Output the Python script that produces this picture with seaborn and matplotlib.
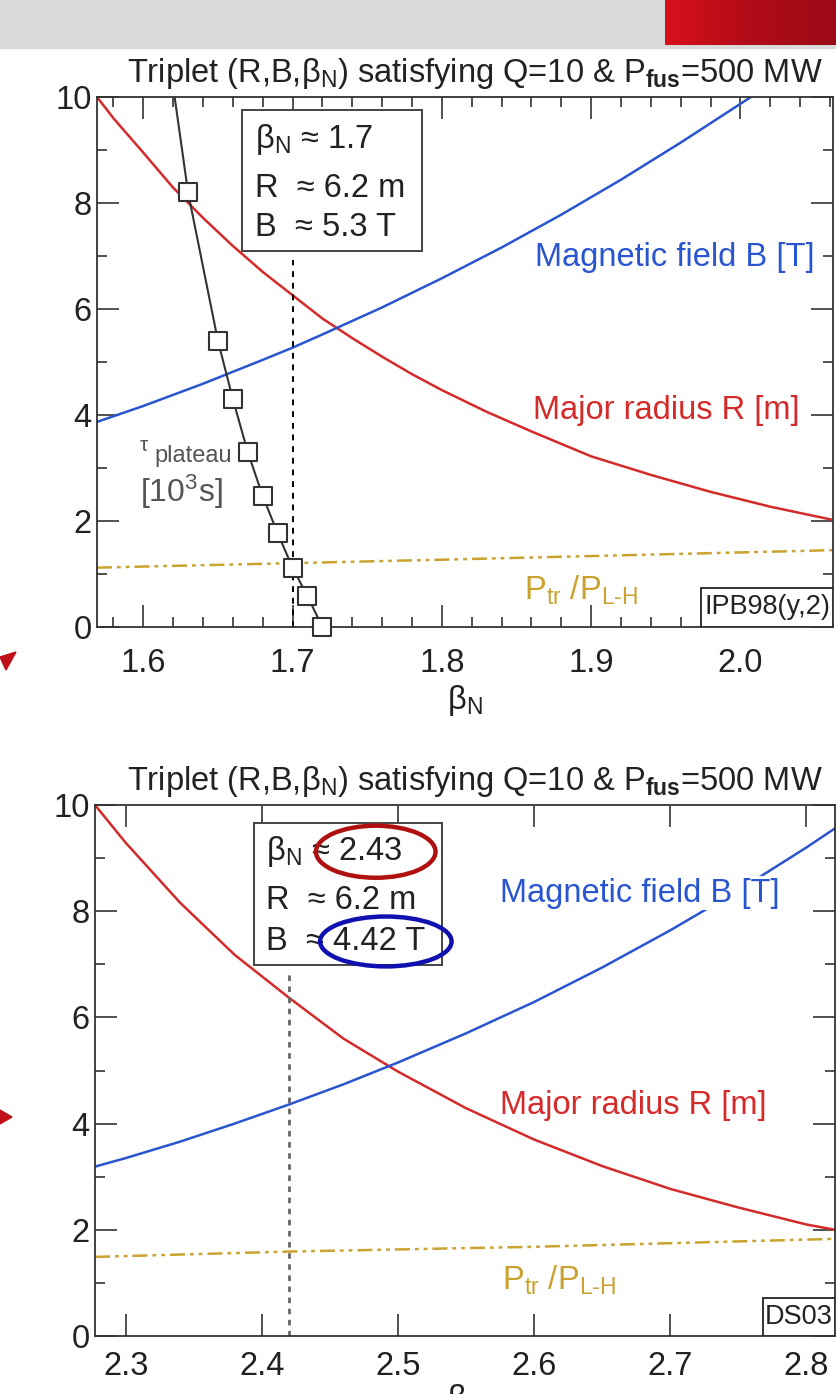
import numpy as np
import seaborn as sns
import matplotlib
matplotlib.use("agg")
import matplotlib.pyplot as plt
from matplotlib.patches import Rectangle, Ellipse, Polygon
from matplotlib.ticker import MultipleLocator
from matplotlib.colors import LinearSegmentedColormap

# ---- data ----
# upper panel, IPB98(y,2)
top_R_beta = [1.569, 1.58, 1.60, 1.62, 1.64, 1.66, 1.68, 1.70, 1.72, 1.74, 1.76, 1.78,
              1.80, 1.83, 1.86, 1.90, 1.94, 1.98, 2.02, 2.062]
top_R_val = [10.0, 9.60, 8.95, 8.29, 7.72, 7.19, 6.70, 6.26, 5.82, 5.45, 5.10, 4.77,
             4.47, 4.06, 3.69, 3.22, 2.87, 2.55, 2.27, 2.02]
top_B_beta = [1.569, 1.60, 1.64, 1.68, 1.70, 1.72, 1.76, 1.80, 1.84, 1.88, 1.92, 1.96, 2.007]
top_B_val = [3.87, 4.17, 4.59, 5.04, 5.27, 5.52, 6.03, 6.58, 7.16, 7.78, 8.44, 9.14, 10.0]
top_P_beta = [1.569, 1.80, 2.062]
top_P_val = [1.12, 1.27, 1.45]
tau_beta = [1.621, 1.63, 1.65, 1.66, 1.67, 1.68, 1.69, 1.70, 1.71, 1.72]
tau_val = [10.0, 8.2, 5.4, 4.3, 3.3, 2.47, 1.77, 1.12, 0.58, 0.0]
top_op = 1.7
top_op_top = 6.92
top_rows = ["β$_{\\rm N}$ ≈ 1.7", "R  ≈ 6.2 m", "B  ≈ 5.3 T"]

# lower panel, DS03
bot_R_beta = [2.2775, 2.30, 2.34, 2.38, 2.42, 2.46, 2.50, 2.55, 2.60, 2.65, 2.70, 2.75, 2.80, 2.821]
bot_R_val = [10.0, 9.29, 8.16, 7.18, 6.37, 5.60, 4.98, 4.29, 3.70, 3.20, 2.77, 2.42, 2.10, 2.00]
bot_B_beta = [2.2775, 2.30, 2.34, 2.38, 2.42, 2.46, 2.50, 2.55, 2.60, 2.65, 2.70, 2.75, 2.80, 2.821]
bot_B_val = [3.19, 3.35, 3.66, 4.00, 4.36, 4.74, 5.15, 5.70, 6.29, 6.94, 7.64, 8.39, 9.20, 9.56]
bot_P_beta = [2.2775, 2.42, 2.60, 2.821]
bot_P_val = [1.49, 1.59, 1.68, 1.83]
bot_op = 2.42
bot_op_top = 6.86
bot_rows = ["β$_{\\rm N}$ ≈ 2.43", "R  ≈ 6.2 m", "B  ≈ 4.42 T"]

title = "Triplet (R,B,β$_{\\rm N}$) satisfying Q=10 & P$_{\\bf fus}$=500 MW"

RED = "#d42a2a"
BLUE = "#2a55d0"
GOLD = "#c9a230"
DARK = "#333333"
TXT = "#222222"

sns.set_theme(style="ticks")
plt.rcParams['font.family'] = ['Liberation Sans', 'DejaVu Sans']
plt.rcParams['mathtext.fontset'] = 'custom'
plt.rcParams['mathtext.rm'] = 'Liberation Sans'
plt.rcParams['mathtext.it'] = 'Liberation Sans:italic'
plt.rcParams['mathtext.bf'] = 'Liberation Sans:bold'
plt.rcParams['axes.edgecolor'] = DARK
plt.rcParams['axes.linewidth'] = 1.3

W, H = 837, 1394
fig = plt.figure(figsize=(W / 100, H / 100), dpi=100)
fig.patch.set_facecolor("white")

# slide header
fig.patches.append(Rectangle((0, 1 - 48 / H), 1, 48 / H, transform=fig.transFigure,
                             color="#d9d9d9", zorder=-1))
hax = fig.add_axes([665 / W, 1 - 45 / H, 172 / W, 45 / H])
hax.set_zorder(10)
cm = LinearSegmentedColormap.from_list("hdr", ["#d8101c", "#b00c18", "#9a0a16"])
hax.imshow(np.linspace(0, 1, 100)[None, :], aspect="auto", cmap=cm)
hax.axis("off")

# small red arrows at the left edge
for pts in ([(0, 657), (16, 652), (6, 670)], [(0, 1110), (12, 1117), (0, 1124)]):
    fig.patches.append(Polygon([(x / W, 1 - y / H) for x, y in pts], closed=True,
                               transform=fig.transFigure, color="#c0101a"))

ax1 = fig.add_axes([97 / W, 1 - 627 / H, 736 / W, 530 / H])
ax2 = fig.add_axes([95 / W, 1 - 1336 / H, 740 / W, 531 / H])

FS = 23.5
SMALL = 19.5


def style_axes(ax, xlim, minor_x, xpad, labelpad):
    ax.set_xlim(*xlim)
    ax.set_ylim(0, 10)
    ax.xaxis.set_major_locator(MultipleLocator(0.1))
    if minor_x:
        ax.xaxis.set_minor_locator(MultipleLocator(0.02))
    ax.yaxis.set_major_locator(MultipleLocator(2))
    ax.yaxis.set_minor_locator(MultipleLocator(1))
    ax.tick_params(which="both", direction="in", top=True, right=True,
                   color=DARK, width=1.2, labelsize=FS, labelcolor=TXT)
    ax.tick_params(which="major", length=16)
    ax.tick_params(which="minor", length=7)
    ax.tick_params(axis="x", which="major", pad=xpad)
    ax.tick_params(axis="y", which="major", pad=4)
    ax.set_xlabel("β$_{\\rm N}$", fontsize=FS, color=TXT, labelpad=labelpad)
    ax.set_ylabel("")
    ax.set_title(title, fontsize=FS, color=TXT, pad=11, x=0.513)
    for s in ax.spines.values():
        s.set_visible(True)


# ---------- upper panel ----------
sns.lineplot(x=top_R_beta, y=top_R_val, ax=ax1, color=RED, lw=1.8)
sns.lineplot(x=top_B_beta, y=top_B_val, ax=ax1, color=BLUE, lw=1.8)
sns.lineplot(x=top_P_beta, y=top_P_val, ax=ax1, color=GOLD, lw=1.8,
             linestyle=(0, (6, 2, 1.5, 2, 1.5, 2)))
sns.lineplot(x=tau_beta, y=tau_val, ax=ax1, color=DARK, lw=1.5)
sns.scatterplot(x=tau_beta[1:], y=tau_val[1:], ax=ax1, marker="s", s=185,
                facecolor="white", edgecolor=DARK, linewidth=1.5, zorder=5, clip_on=False)
ax1.plot([top_op, top_op], [0, top_op_top], color="black", lw=1.4, ls=(0, (3, 3)))
style_axes(ax1, (1.569, 2.062), True, 15, 3)

ax1.add_patch(Rectangle((1.666, 7.09), 0.121, 2.66, facecolor="white",
                        edgecolor="#444444", lw=1.4, zorder=6))
for yy, row in zip([9.19, 8.28, 7.53], top_rows):
    ax1.text(1.6745, yy, row, fontsize=FS, va="center", ha="left", color=TXT, zorder=7)

ax1.text(2.0497, 6.98, "Magnetic field B [T]", color=BLUE, fontsize=FS, ha="right", va="center")
ax1.text(2.0396, 4.09, "Major radius R [m]", color=RED, fontsize=FS, ha="right", va="center")
ax1.text(1.855, 0.70, "P$_{\\rm tr}$ /P$_{\\rm L\\text{-}H}$", color=GOLD, fontsize=FS,
         ha="left", va="center")
ax1.text(1.5975, 3.43, "τ", color="#555555", fontsize=15, ha="left", va="center")
ax1.text(1.6075, 3.22, "plateau", color="#555555", fontsize=17, ha="left", va="center")
ax1.text(1.598, 2.55, "[10$^{3}$s]", color="#555555", fontsize=23, ha="left", va="center")

ax1.add_patch(Rectangle((1 - 0.179, 0), 0.179, 0.0736, transform=ax1.transAxes,
                        facecolor="white", edgecolor=TXT, lw=1.3, zorder=6))
ax1.text(1 - 0.0895, 0.0368, "IPB98(y,2)", transform=ax1.transAxes, fontsize=SMALL,
         ha="center", va="center", color=TXT, zorder=7)

# ---------- lower panel ----------
sns.lineplot(x=bot_R_beta, y=bot_R_val, ax=ax2, color=RED, lw=1.8)
sns.lineplot(x=bot_B_beta, y=bot_B_val, ax=ax2, color=BLUE, lw=1.8)
sns.lineplot(x=bot_P_beta, y=bot_P_val, ax=ax2, color=GOLD, lw=1.8,
             linestyle=(0, (6, 2, 1.5, 2, 1.5, 2)))
ax2.plot([bot_op, bot_op], [0, bot_op_top], color="#666666", lw=2, ls=(0, (2, 2)))
style_axes(ax2, (2.2775, 2.821), False, 11, 0)

ax2.add_patch(Rectangle((2.394, 6.99), 0.1385, 2.68, facecolor="white",
                        edgecolor="#444444", lw=1.4, zorder=6))
for yy, row in zip([9.12, 8.21, 7.43], bot_rows):
    ax2.text(2.4034, yy, row, fontsize=FS, va="center", ha="left", color=TXT, zorder=7)
ax2.add_patch(Ellipse((2.4837, 9.12), 0.0878, 0.98, fill=False, edgecolor="#b01010",
                      lw=3.2, zorder=8))
ax2.add_patch(Ellipse((2.4911, 7.43), 0.0966, 0.94, fill=False, edgecolor="#1010b0",
                      lw=3.2, zorder=8))

ax2.text(2.5753, 8.34, "Magnetic field B [T]", color=BLUE, fontsize=FS, ha="left", va="center",
         bbox=dict(facecolor="white", edgecolor="none", pad=1), zorder=4)
ax2.text(2.5753, 4.35, "Major radius R [m]", color=RED, fontsize=FS, ha="left", va="center")
ax2.text(2.5762, 1.05, "P$_{\\rm tr}$ /P$_{\\rm L\\text{-}H}$", color=GOLD, fontsize=FS,
         ha="left", va="center")

ax2.add_patch(Rectangle((1 - 0.097, 0), 0.097, 0.0716, transform=ax2.transAxes,
                        facecolor="white", edgecolor=TXT, lw=1.3, zorder=6))
ax2.text(1 - 0.0485, 0.0358, "DS03", transform=ax2.transAxes, fontsize=SMALL,
         ha="center", va="center", color=TXT, zorder=7)

plt.savefig("out.png", dpi=100)
plt.close()
